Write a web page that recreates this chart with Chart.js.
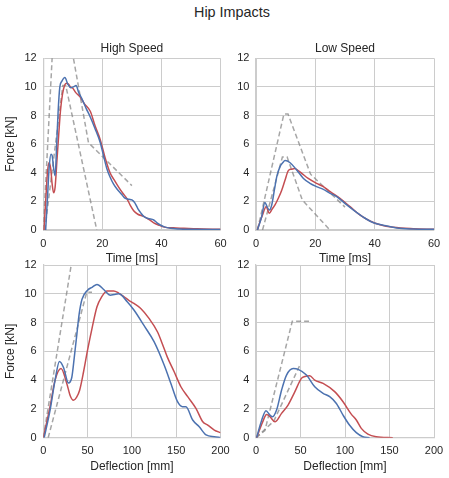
<!DOCTYPE html>
<html>
<head>
<meta charset="utf-8">
<script src="https://cdn.jsdelivr.net/npm/chart.js@4"></script>
<style>
  body { margin: 0; background: #fff; }
  #wrap { position: relative; width: 449px; height: 478px; background: #fff; overflow: hidden; }
  #wrap canvas { position: absolute; }
  #suptitle {
    position: absolute; left: 132px; top: 4px; width: 200px; height: 18px;
    line-height: 18px; text-align: center; color: #262626;
    font: 14.4px "Liberation Sans", Arial, sans-serif;
  }
</style>
</head>
<body>
<div id="wrap">
  <div id="suptitle">Hip Impacts</div>
  <canvas id="hsTime" width="239" height="240" style="left:0;top:30px"></canvas>
  <canvas id="lsTime" width="232" height="240" style="left:220px;top:30px"></canvas>
  <canvas id="hsDefl" width="239" height="228" style="left:0;top:250px"></canvas>
  <canvas id="lsDefl" width="232" height="228" style="left:220px;top:250px"></canvas>
</div>
<script>
// --- high speed, force vs time ---
const hsTimeRedX = [0.2, 0.8, 1.4, 1.9, 2.5, 3.0, 3.5, 4.0, 4.6, 5.2, 5.8, 6.5, 7.2, 7.8, 8.5, 9.2, 10.0, 11.0, 12.5, 14.0, 15.9, 17.5, 19.3, 21.0, 22.6, 24.0, 25.5, 27.0, 28.3, 29.5, 30.6, 32.0, 34.0, 36.0, 37.4, 39.0, 41.0, 44.0, 47.6, 52.0, 60.0];
const hsTimeRedY = [0, 2.0, 4.0, 4.7, 4.3, 3.2, 2.6, 3.0, 4.8, 6.6, 8.3, 9.5, 10.1, 10.25, 10.2, 10.0, 9.9, 9.6, 9.3, 8.8, 8.3, 7.3, 6.3, 5.0, 4.0, 3.5, 3.0, 2.55, 2.2, 1.7, 1.35, 1.1, 0.95, 0.7, 0.5, 0.35, 0.2, 0.15, 0.12, 0.08, 0.05];
const hsTimeBlueX = [0.8, 1.4, 2.0, 2.6, 3.0, 3.5, 4.0, 4.5, 5.0, 5.6, 6.3, 7.3, 8.3, 9.3, 10.2, 11.1, 12.0, 13.0, 14.5, 15.9, 17.5, 19.3, 20.5, 21.5, 22.6, 23.8, 25.0, 26.5, 27.5, 29.0, 30.0, 31.0, 32.0, 33.0, 34.0, 35.5, 37.4, 38.5, 39.6, 41.0, 43.0, 46.0, 50.0, 60.0];
const hsTimeBlueY = [0, 2.2, 4.4, 5.3, 5.2, 4.3, 3.8, 5.8, 8.2, 10.0, 10.4, 10.65, 10.2, 9.95, 10.0, 10.1, 9.6, 9.2, 8.5, 7.9, 7.1, 6.1, 5.1, 4.3, 3.7, 3.2, 2.85, 2.5, 2.25, 2.15, 2.1, 1.9, 1.5, 1.2, 0.95, 0.8, 0.7, 0.5, 0.35, 0.22, 0.12, 0.07, 0.05, 0.04];
const hsTimeOuterX = [0, 4.6, 15.3, 30];
const hsTimeOuterY = [0, 18.5, 6.1, 3.1];
const hsTimeInnerX = [0.5, 6.6, 7.6, 18.1];
const hsTimeInnerY = [0, 10.1, 10.1, 0];

// --- low speed, force vs time ---
const lsTimeRedX = [0.45, 1.3, 2.2, 3.4, 4.5, 5.4, 6.4, 7.6, 8.7, 9.8, 10.9, 12.0, 13.1, 14.2, 15.4, 17.6, 20.4, 22.7, 25.0, 28.3, 31.7, 35.0, 38.4, 41.8, 46.3, 53.0, 60.0];
const lsTimeRedY = [0, 0.55, 1.05, 1.63, 1.17, 1.45, 1.75, 2.25, 2.8, 3.5, 4.15, 4.25, 4.3, 4.15, 3.96, 3.6, 3.26, 3.03, 2.68, 2.21, 1.63, 1.05, 0.63, 0.37, 0.19, 0.09, 0.05];
const lsTimeBlueX = [0.45, 1.2, 1.9, 3.0, 3.8, 4.5, 5.3, 6.2, 7.0, 8.1, 9.0, 9.8, 11.5, 13.7, 16.0, 18.2, 20.4, 22.7, 25.0, 27.2, 30.6, 34.0, 37.3, 39.6, 42.9, 47.4, 53.0, 60.0];
const lsTimeBlueY = [0, 0.45, 0.93, 1.93, 1.6, 1.4, 1.75, 2.8, 3.73, 4.43, 4.7, 4.85, 4.7, 4.2, 3.6, 3.26, 3.03, 2.84, 2.56, 2.33, 1.75, 1.21, 0.75, 0.51, 0.33, 0.14, 0.07, 0.05];
const lsTimeOuterX = [0.5, 9.4, 10.8, 18.4, 30];
const lsTimeOuterY = [0, 8.1, 8.1, 3.9, 1.6];
const lsTimeInnerX = [2.2, 8.9, 10.5, 15.6, 24.9];
const lsTimeInnerY = [0, 5.1, 5.1, 2.1, 0];

// --- high speed, force vs deflection ---
const hsDeflRedX = [0, 7.6, 13.3, 20, 26.5, 30.5, 34, 37.5, 41, 45.5, 50, 55, 60.6, 66, 72, 79.5, 85, 90.9, 96.5, 102.3, 110, 119.3, 128.8, 134.5, 140, 147.7, 155.3, 163, 172.3, 180, 185.6, 193, 200];
const hsDeflRedY = [0, 2.15, 4.0, 4.8, 3.77, 2.9, 2.6, 2.8, 3.3, 4.6, 6.1, 7.6, 9.1, 9.8, 10.2, 10.2, 10.05, 9.8, 9.55, 9.33, 8.98, 8.29, 7.36, 6.5, 5.6, 4.58, 3.54, 2.85, 2.04, 1.11, 0.88, 0.53, 0.35];
const hsDeflBlueX = [1, 7.6, 13.3, 18.2, 22.7, 28.4, 32.2, 35, 37.9, 40.5, 43.6, 50, 55, 60.6, 68.2, 75.8, 80, 85.2, 94.7, 102.3, 113.6, 125, 136.4, 144, 151.5, 157, 161, 168.6, 176, 183.7, 193, 200];
const hsDeflBlueY = [0, 1.9, 4.0, 5.3, 4.9, 3.8, 4.2, 5.6, 7.2, 8.6, 9.6, 10.25, 10.45, 10.65, 10.3, 9.9, 9.95, 10.0, 9.45, 8.87, 7.8, 6.67, 5.05, 3.77, 2.5, 2.15, 2.15, 1.23, 0.76, 0.19, 0.07, 0.02];
const hsDeflOuterX = [0, 31.5];
const hsDeflOuterY = [0, 12];
const hsDeflInnerX = [5.5, 49, 55];
const hsDeflInnerY = [0, 10.1, 10.1];

// --- low speed, force vs deflection ---
const lsDeflRedX = [0.7, 7.5, 11.9, 15.7, 21.3, 28.7, 36, 43.7, 51, 55, 60.4, 66, 75.4, 88.4, 97.8, 107, 112.7, 118.3, 125.7, 135, 153.7];
const lsDeflRedY = [0, 1.1, 1.62, 1.46, 1.1, 1.69, 2.27, 3.2, 4.12, 4.25, 4.3, 4.0, 3.77, 3.2, 2.5, 1.64, 1.23, 0.65, 0.25, 0.07, 0];
const lsDeflBlueX = [0.7, 6.3, 11.2, 15.7, 18.7, 23.1, 28.7, 34.3, 41.8, 47.4, 56.7, 66, 75.4, 82.8, 90.3, 97.8, 105, 112.7, 120, 127.6];
const lsDeflBlueY = [0, 1.2, 1.87, 1.57, 1.46, 1.92, 3.3, 4.35, 4.8, 4.75, 4.35, 3.54, 3.08, 2.85, 2.38, 1.57, 0.88, 0.35, 0.07, 0];
const lsDeflOuterX = [0, 10, 40.8, 59.6];
const lsDeflOuterY = [0, 0.5, 8.1, 8.1];
const lsDeflInnerX = [0, 20, 49];
const lsDeflInnerY = [0, 1.15, 5.0];

const forceTicks = [0, 2, 4, 6, 8, 10, 12];
const timeTicks = [0, 20, 40, 60];
const deflTicks = [0, 50, 100, 150, 200];

const FONT = '"Liberation Sans", Arial, sans-serif';
const TEXT = '#262626';
const GRID = '#cccccc';
const RED = '#C44E52';
const BLUE = '#4C72B0';
const CORRIDOR = 'rgba(128, 128, 128, 0.7)';

function pts(xs, ys) {
    return xs.map((x, i) => ({ x: x, y: ys[i] }));
}

function curve(xs, ys, color) {
    return {
        data: pts(xs, ys),
        borderColor: color,
        borderWidth: 1.5,
        pointRadius: 0,
        cubicInterpolationMode: 'monotone'
    };
}

function dashed(xs, ys) {
    return {
        data: pts(xs, ys),
        borderColor: CORRIDOR,
        borderWidth: 1.5,
        borderDash: [5, 3],
        pointRadius: 0,
        tension: 0
    };
}

function makePanel(id, p) {
    const ctx = document.getElementById(id).getContext('2d');
    new Chart(ctx, {
        type: 'line',
        data: {
            datasets: [
                curve(p.blueX, p.blueY, BLUE),
                curve(p.redX, p.redY, RED),
                dashed(p.outerX, p.outerY),
                dashed(p.innerX, p.innerY)
            ]
        },
        options: {
            responsive: false,
            animation: false,
            events: [],
            layout: { padding: { top: p.padTop, right: p.padRight, bottom: 0, left: 0 } },
            plugins: {
                legend: { display: false },
                tooltip: { enabled: false },
                title: {
                    display: !!p.title,
                    text: p.title,
                    fullSize: false,
                    color: TEXT,
                    font: { family: FONT, size: 12, weight: 'normal', lineHeight: 1.2 },
                    padding: { top: 11.1, bottom: 2.8 }
                }
            },
            scales: {
                x: {
                    type: 'linear',
                    min: p.xTicks[0],
                    max: p.xTicks[p.xTicks.length - 1],
                    afterBuildTicks: (s) => { s.ticks = p.xTicks.map(v => ({ value: v })); },
                    afterFit: (s) => { s.height = p.xAxisH; },
                    grid: { color: GRID, lineWidth: 1, drawTicks: false },
                    border: { color: GRID, width: 1.25 },
                    ticks: { color: TEXT, font: { family: FONT, size: 11 }, padding: 7, maxRotation: 0 },
                    title: {
                        display: true,
                        text: p.xTitle,
                        color: TEXT,
                        font: { family: FONT, size: 12, lineHeight: 1.2 },
                        padding: { top: 0, bottom: 4.5 }
                    }
                },
                y: {
                    min: 0,
                    max: 12,
                    afterBuildTicks: (s) => { s.ticks = forceTicks.map(v => ({ value: v })); },
                    afterFit: (s) => { s.width = p.yAxisW; },
                    grid: { color: GRID, lineWidth: 1, drawTicks: false },
                    border: { color: GRID, width: 1.25 },
                    ticks: { color: TEXT, font: { family: FONT, size: 11 }, padding: 6.6 },
                    title: {
                        display: !!p.yTitle,
                        text: p.yTitle || '',
                        color: TEXT,
                        font: { family: FONT, size: 12, lineHeight: 1.2 },
                        padding: { top: 3.6, bottom: 0 }
                    }
                }
            }
        }
    });
}

makePanel('hsTime', {
    redX: hsTimeRedX, redY: hsTimeRedY, blueX: hsTimeBlueX, blueY: hsTimeBlueY,
    outerX: hsTimeOuterX, outerY: hsTimeOuterY, innerX: hsTimeInnerX, innerY: hsTimeInnerY,
    xTicks: timeTicks, xTitle: 'Time [ms]', yTitle: 'Force [kN]', title: 'High Speed',
    padTop: 0, padRight: 18.5, xAxisH: 40, yAxisW: 43.3
});
makePanel('lsTime', {
    redX: lsTimeRedX, redY: lsTimeRedY, blueX: lsTimeBlueX, blueY: lsTimeBlueY,
    outerX: lsTimeOuterX, outerY: lsTimeOuterY, innerX: lsTimeInnerX, innerY: lsTimeInnerY,
    xTicks: timeTicks, xTitle: 'Time [ms]', yTitle: null, title: 'Low Speed',
    padTop: 0, padRight: 18, xAxisH: 40, yAxisW: 36
});
makePanel('hsDefl', {
    redX: hsDeflRedX, redY: hsDeflRedY, blueX: hsDeflBlueX, blueY: hsDeflBlueY,
    outerX: hsDeflOuterX, outerY: hsDeflOuterY, innerX: hsDeflInnerX, innerY: hsDeflInnerY,
    xTicks: deflTicks, xTitle: 'Deflection [mm]', yTitle: 'Force [kN]', title: null,
    padTop: 15, padRight: 18.5, xAxisH: 40.3, yAxisW: 43.3
});
makePanel('lsDefl', {
    redX: lsDeflRedX, redY: lsDeflRedY, blueX: lsDeflBlueX, blueY: lsDeflBlueY,
    outerX: lsDeflOuterX, outerY: lsDeflOuterY, innerX: lsDeflInnerX, innerY: lsDeflInnerY,
    xTicks: deflTicks, xTitle: 'Deflection [mm]', yTitle: null, title: null,
    padTop: 15, padRight: 18, xAxisH: 40.3, yAxisW: 36
});
</script>
</body>
</html>
